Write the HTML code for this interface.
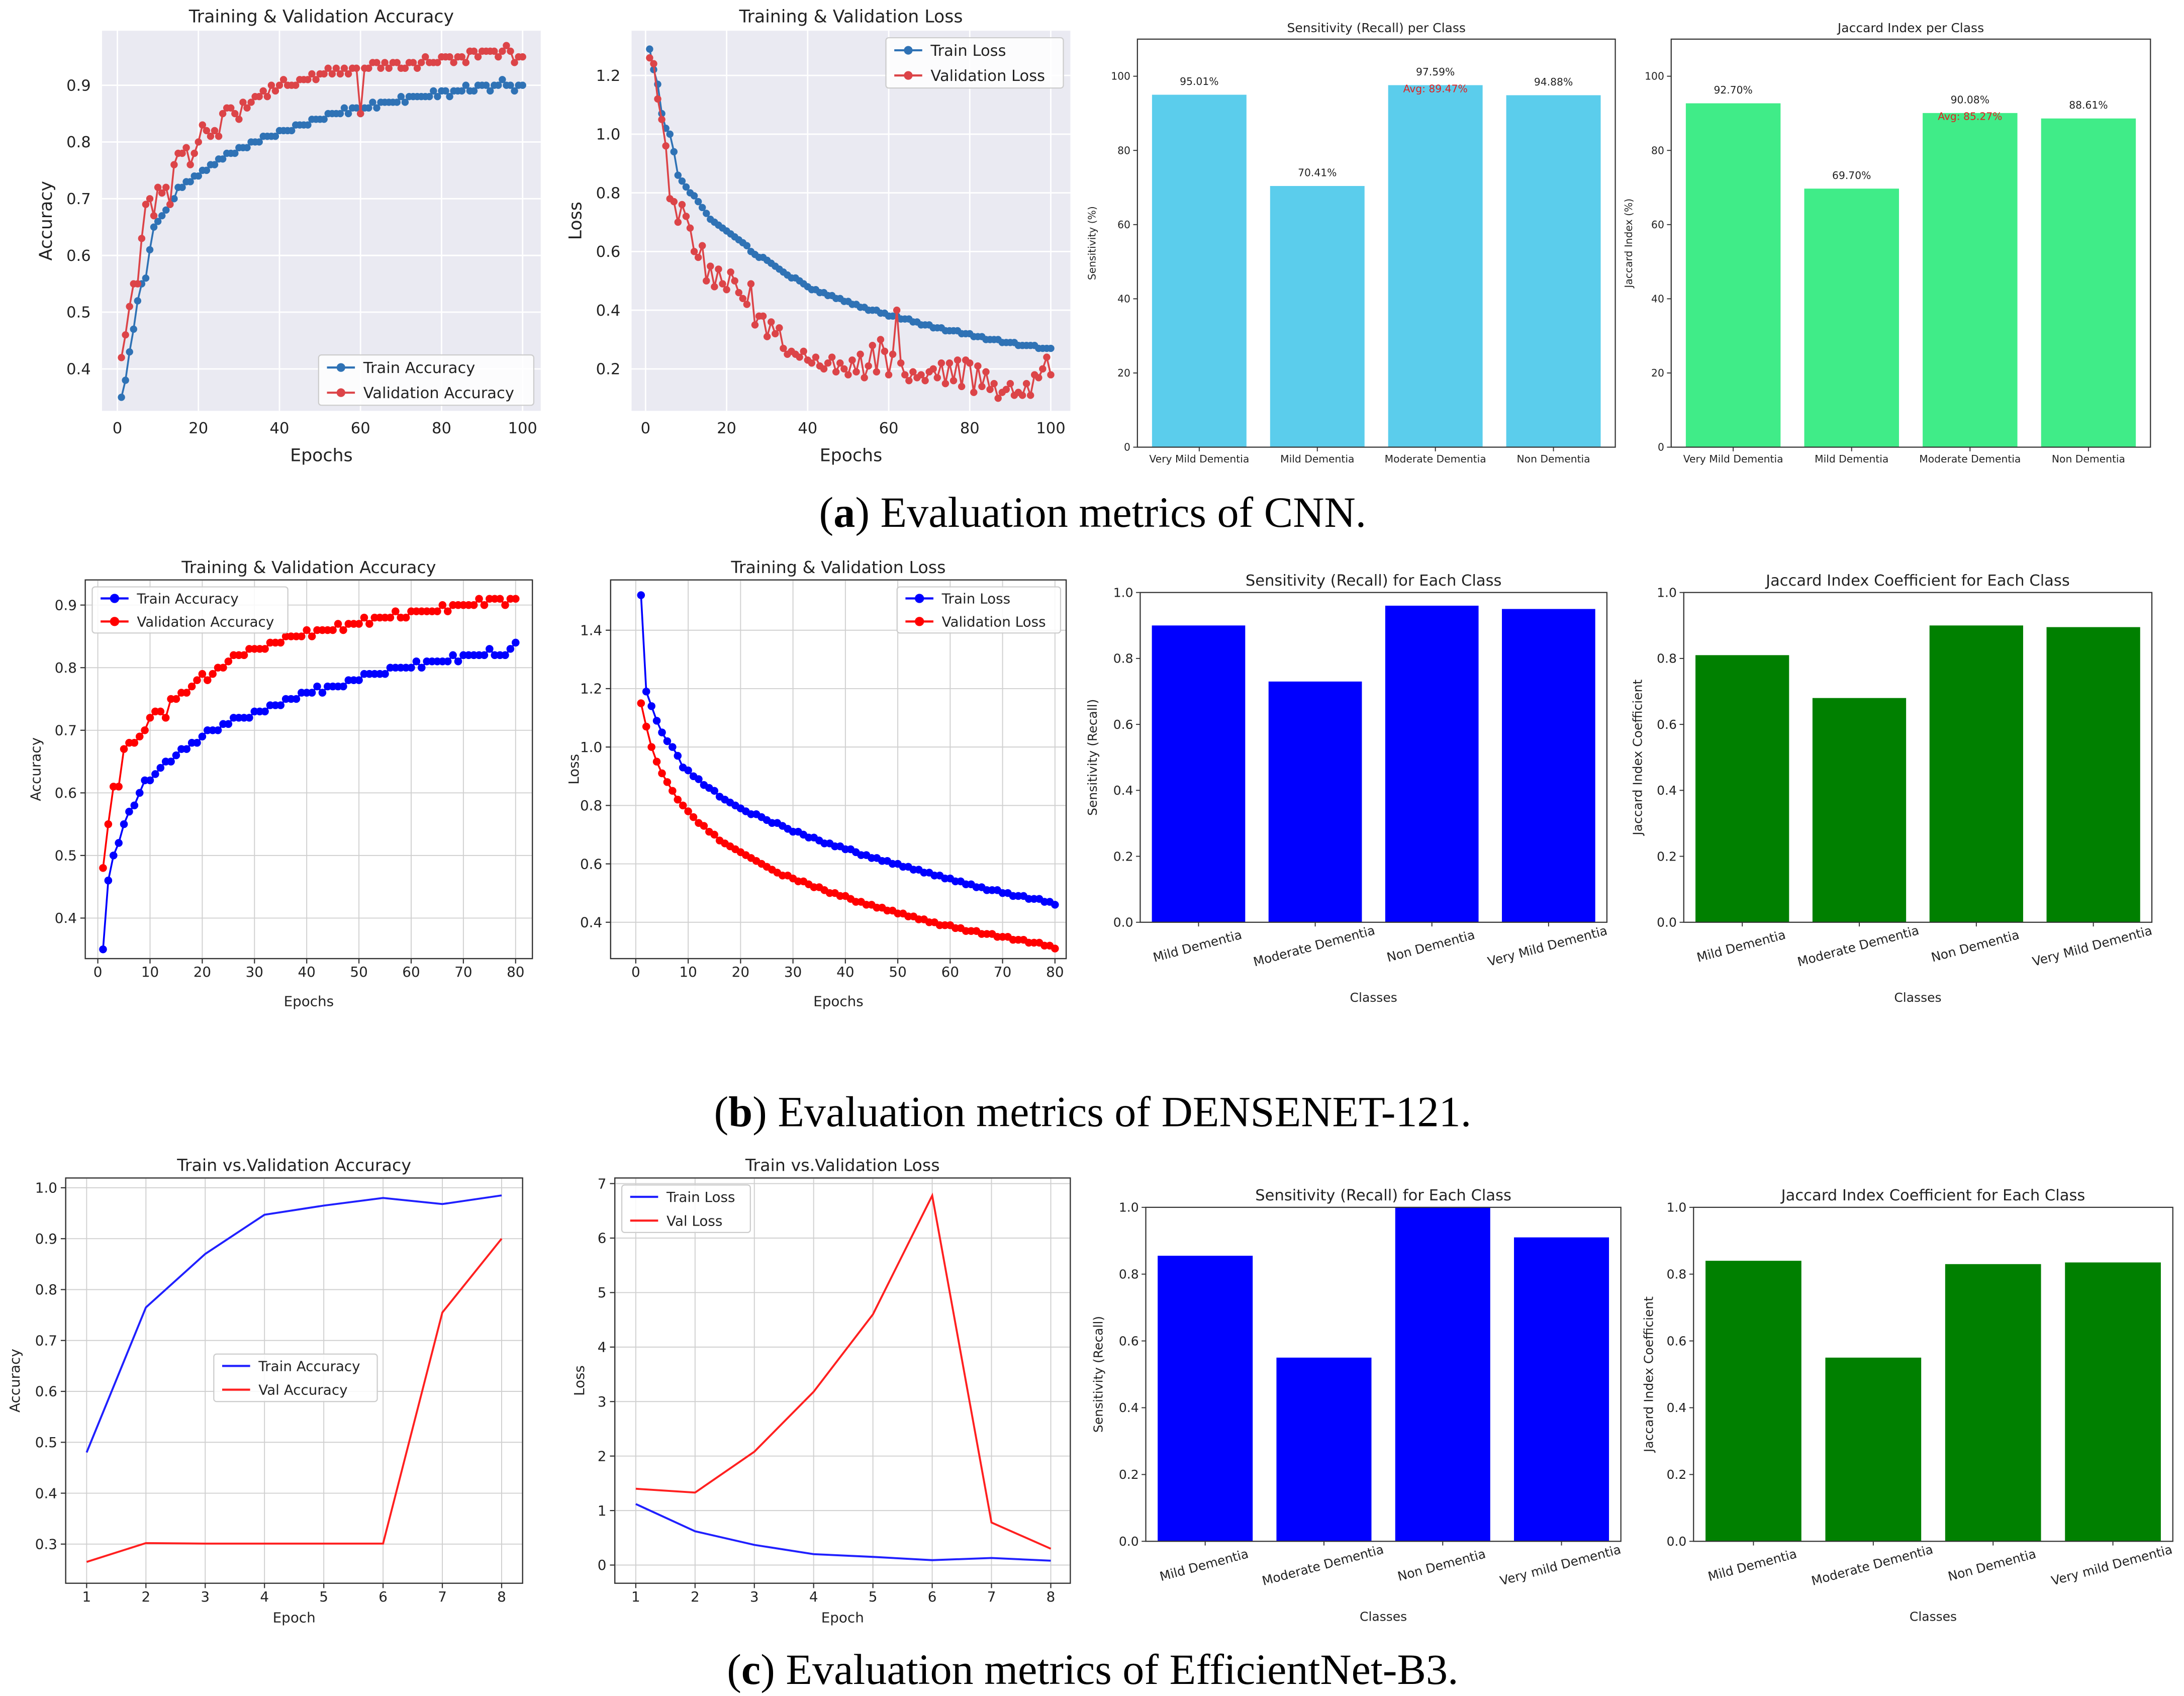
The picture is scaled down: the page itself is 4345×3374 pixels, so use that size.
<!DOCTYPE html>
<html><head><meta charset="utf-8">
<style>
html,body{margin:0;padding:0;background:#fff;}
svg{display:block;}
text{font-family:"DejaVu Sans","Liberation Sans",sans-serif;}
.cap{font-family:"Liberation Serif",serif;}
</style></head>
<body>
<svg id="fig" width="4345" height="3374" viewBox="0 0 1563 1213.7" xmlns="http://www.w3.org/2000/svg">
<rect width="1563" height="1213.7" fill="#fff"/>
<text class="cap" x="782" y="377" font-size="31" text-anchor="middle">(<tspan font-weight="bold">a</tspan>) Evaluation metrics of CNN.</text>
<text class="cap" x="782" y="806" font-size="31" text-anchor="middle">(<tspan font-weight="bold">b</tspan>) Evaluation metrics of DENSENET-121.</text>
<text class="cap" x="782" y="1205" font-size="31" text-anchor="middle">(<tspan font-weight="bold">c</tspan>) Evaluation metrics of EfficientNet-B3.</text>
</svg>
<script>
// ---------- data ----------
const cnnTrainAcc=[0.35,0.38,0.43,0.47,0.52,0.55,0.56,0.61,0.65,0.66,0.67,0.68,0.69,0.70,0.72,0.72,0.73,0.73,0.74,0.74,0.75,0.75,0.76,0.76,0.77,0.77,0.78,0.78,0.78,0.79,0.79,0.79,0.80,0.80,0.80,0.81,0.81,0.81,0.81,0.82,0.82,0.82,0.82,0.83,0.83,0.83,0.83,0.84,0.84,0.84,0.84,0.85,0.85,0.85,0.85,0.86,0.85,0.86,0.86,0.85,0.86,0.86,0.87,0.86,0.87,0.87,0.87,0.87,0.87,0.88,0.87,0.88,0.88,0.88,0.88,0.88,0.88,0.89,0.88,0.89,0.89,0.88,0.89,0.89,0.89,0.90,0.89,0.89,0.90,0.90,0.90,0.89,0.90,0.90,0.91,0.90,0.90,0.89,0.90,0.90];
const cnnValAcc=[0.42,0.46,0.51,0.55,0.55,0.63,0.69,0.70,0.67,0.72,0.71,0.72,0.69,0.76,0.78,0.78,0.79,0.76,0.78,0.80,0.83,0.82,0.81,0.82,0.81,0.85,0.86,0.86,0.85,0.84,0.87,0.86,0.87,0.88,0.88,0.89,0.88,0.90,0.89,0.90,0.91,0.90,0.90,0.90,0.91,0.91,0.91,0.92,0.91,0.92,0.92,0.93,0.92,0.93,0.92,0.93,0.92,0.93,0.93,0.85,0.93,0.93,0.94,0.94,0.93,0.94,0.93,0.94,0.94,0.93,0.93,0.94,0.94,0.93,0.94,0.95,0.94,0.94,0.94,0.95,0.95,0.95,0.94,0.95,0.95,0.94,0.96,0.96,0.95,0.96,0.96,0.96,0.96,0.95,0.96,0.97,0.96,0.94,0.95,0.95];
const cnnTrainLoss=[1.29,1.22,1.17,1.07,1.02,1.00,0.94,0.86,0.84,0.82,0.80,0.79,0.77,0.75,0.73,0.71,0.70,0.69,0.68,0.67,0.66,0.65,0.64,0.63,0.62,0.60,0.59,0.58,0.58,0.57,0.56,0.55,0.54,0.53,0.52,0.51,0.51,0.50,0.49,0.48,0.47,0.47,0.46,0.46,0.45,0.45,0.44,0.44,0.43,0.43,0.42,0.42,0.41,0.41,0.40,0.40,0.40,0.39,0.39,0.38,0.38,0.38,0.37,0.37,0.37,0.36,0.36,0.35,0.35,0.35,0.34,0.34,0.34,0.33,0.33,0.33,0.33,0.32,0.32,0.32,0.31,0.31,0.31,0.30,0.30,0.30,0.30,0.29,0.29,0.29,0.29,0.28,0.28,0.28,0.28,0.28,0.27,0.27,0.27,0.27];
const cnnValLoss=[1.26,1.24,1.12,1.05,0.96,0.78,0.77,0.70,0.76,0.72,0.68,0.60,0.58,0.62,0.50,0.55,0.48,0.54,0.49,0.47,0.53,0.50,0.46,0.44,0.42,0.49,0.35,0.38,0.38,0.31,0.36,0.32,0.34,0.27,0.25,0.26,0.25,0.24,0.26,0.23,0.22,0.24,0.21,0.20,0.22,0.24,0.19,0.22,0.20,0.18,0.23,0.19,0.25,0.17,0.21,0.28,0.19,0.30,0.26,0.18,0.25,0.40,0.22,0.18,0.16,0.19,0.17,0.18,0.16,0.19,0.20,0.17,0.22,0.15,0.22,0.16,0.23,0.14,0.23,0.22,0.12,0.21,0.14,0.19,0.13,0.15,0.10,0.12,0.13,0.15,0.11,0.12,0.11,0.15,0.11,0.18,0.17,0.20,0.24,0.18];
const cnnClasses=["Very Mild Dementia","Mild Dementia","Moderate Dementia","Non Dementia"];
const cnnSensitivity=[95.01,70.41,97.59,94.88];
const cnnJaccard=[92.70,69.70,90.08,88.61];
const cnnSensAvg="Avg: 89.47%";
const cnnJacAvg="Avg: 85.27%";

const denseTrainAcc=[0.35,0.46,0.50,0.52,0.55,0.57,0.58,0.60,0.62,0.62,0.63,0.64,0.65,0.65,0.66,0.67,0.67,0.68,0.68,0.69,0.70,0.70,0.70,0.71,0.71,0.72,0.72,0.72,0.72,0.73,0.73,0.73,0.74,0.74,0.74,0.75,0.75,0.75,0.76,0.76,0.76,0.77,0.76,0.77,0.77,0.77,0.77,0.78,0.78,0.78,0.79,0.79,0.79,0.79,0.79,0.80,0.80,0.80,0.80,0.80,0.81,0.80,0.81,0.81,0.81,0.81,0.81,0.82,0.81,0.82,0.82,0.82,0.82,0.82,0.83,0.82,0.82,0.82,0.83,0.84];
const denseValAcc=[0.48,0.55,0.61,0.61,0.67,0.68,0.68,0.69,0.70,0.72,0.73,0.73,0.72,0.75,0.75,0.76,0.76,0.77,0.78,0.79,0.78,0.79,0.80,0.80,0.81,0.82,0.82,0.82,0.83,0.83,0.83,0.83,0.84,0.84,0.84,0.85,0.85,0.85,0.85,0.86,0.85,0.86,0.86,0.86,0.86,0.87,0.86,0.87,0.87,0.87,0.88,0.87,0.88,0.88,0.88,0.88,0.89,0.88,0.88,0.89,0.89,0.89,0.89,0.89,0.89,0.90,0.89,0.90,0.90,0.90,0.90,0.90,0.91,0.90,0.91,0.91,0.91,0.90,0.91,0.91];
const denseTrainLoss=[1.52,1.19,1.14,1.09,1.05,1.02,1.00,0.97,0.93,0.92,0.90,0.89,0.87,0.86,0.85,0.83,0.82,0.81,0.80,0.79,0.78,0.77,0.77,0.76,0.75,0.74,0.74,0.73,0.72,0.71,0.71,0.70,0.69,0.69,0.68,0.67,0.67,0.66,0.66,0.65,0.65,0.64,0.63,0.63,0.62,0.62,0.61,0.61,0.60,0.60,0.59,0.59,0.58,0.58,0.57,0.57,0.56,0.56,0.55,0.55,0.54,0.54,0.53,0.53,0.52,0.52,0.51,0.51,0.51,0.50,0.50,0.49,0.49,0.49,0.48,0.48,0.48,0.47,0.47,0.46];
const denseValLoss=[1.15,1.07,1.00,0.95,0.91,0.88,0.85,0.82,0.80,0.78,0.76,0.74,0.73,0.71,0.70,0.68,0.67,0.66,0.65,0.64,0.63,0.62,0.61,0.60,0.59,0.58,0.57,0.56,0.56,0.55,0.54,0.54,0.53,0.52,0.52,0.51,0.50,0.50,0.49,0.49,0.48,0.47,0.47,0.46,0.46,0.45,0.45,0.44,0.44,0.43,0.43,0.42,0.42,0.41,0.41,0.40,0.40,0.39,0.39,0.39,0.38,0.38,0.37,0.37,0.37,0.36,0.36,0.36,0.35,0.35,0.35,0.34,0.34,0.34,0.33,0.33,0.33,0.32,0.32,0.31];
const denseClasses=["Mild Dementia","Moderate Dementia","Non Dementia","Very Mild Dementia"];
const denseSensitivity=[0.90,0.73,0.96,0.95];
const denseJaccard=[0.81,0.68,0.90,0.895];

const effTrainAcc=[0.48,0.765,0.87,0.947,0.965,0.98,0.968,0.985];
const effValAcc=[0.265,0.302,0.301,0.301,0.301,0.301,0.755,0.90];
const effTrainLoss=[1.12,0.62,0.37,0.20,0.15,0.09,0.13,0.08];
const effValLoss=[1.40,1.33,2.08,3.18,4.60,6.78,0.78,0.30];
const effClasses=["Mild Dementia","Moderate Dementia","Non Dementia","Very mild Dementia"];
const effSensitivity=[0.855,0.55,1.0,0.91];
const effJaccard=[0.84,0.55,0.83,0.835];

const accTicksA=[0.4,0.5,0.6,0.7,0.8,0.9];
const lossTicksA=[0.2,0.4,0.6,0.8,1.0,1.2];
const epochTicksA=[0,20,40,60,80,100];
const epochTicksB=[0,10,20,30,40,50,60,70,80];
const accTicksB=[0.4,0.5,0.6,0.7,0.8,0.9];
const lossTicksB=[0.4,0.6,0.8,1.0,1.2,1.4];
const epochTicksC=[1,2,3,4,5,6,7,8];
const accTicksC=[0.3,0.4,0.5,0.6,0.7,0.8,0.9,1.0];
const lossTicksC=[0,1,2,3,4,5,6,7];
const pctTicks=[0,20,40,60,80,100];
const fracTicks=[0,0.2,0.4,0.6,0.8,1.0];

// ---------- helpers ----------
const NS="http://www.w3.org/2000/svg";
const svg=document.getElementById('fig');
function mk(tag,attrs,parent){const e=document.createElementNS(NS,tag);for(const k in attrs)e.setAttribute(k,attrs[k]);(parent||svg).appendChild(e);return e;}
function txt(s,attrs,parent){const e=mk('text',attrs,parent);e.textContent=s;return e;}
function lin(v0,p0,v1,p1){return v=>p0+(v-v0)*(p1-p0)/(v1-v0);}

function linePanel(c){
  const g=mk('g',{});
  
  
  const [x1,y1,x2,y2]=c.frame;
  const X=lin(...c.xcal),Y=lin(...c.ycal);
  const bg=mk('rect',{x:x1,y:y1,width:x2-x1,height:y2-y1,fill:c.seaborn?'#eaeaf2':'#fff',stroke:c.seaborn?'none':'#333','stroke-width':0.8},g);
  
  
  const gridCol=c.seaborn?'#fff':'#d0d0d0';
  c.xticks.forEach(t=>{
    const px=X(t);
    if(c.grid)mk('line',{x1:px,x2:px,y1:y1,y2:y2,stroke:gridCol,'stroke-width':c.seaborn?1:0.7},g);
    if(!c.seaborn)mk('line',{x1:px,x2:px,y1:y2,y2:y2+3.5,stroke:'#333','stroke-width':0.8},g);
    const tl=txt(String(t),{x:px,y:y2+(c.seaborn?16:13),'font-size':c.fs,'text-anchor':'middle',fill:'#222'},g);
    
    
  });
  c.yticks.forEach(t=>{
    const py=Y(t);
    if(c.grid)mk('line',{x1:x1,x2:x2,y1:py,y2:py,stroke:gridCol,'stroke-width':c.seaborn?1:0.7},g);
    if(!c.seaborn)mk('line',{x1:x1-3.5,x2:x1,y1:py,y2:py,stroke:'#333','stroke-width':0.8},g);
    const tl=txt(c.yfmt(t),{x:x1-(c.seaborn?8:6),y:py+c.fs*0.35,'font-size':c.fs,'text-anchor':'end',fill:'#222'},g);
    
    
  });
  if(!c.seaborn)mk('rect',{x:x1,y:y1,width:x2-x1,height:y2-y1,fill:'none',stroke:'#333','stroke-width':0.8},g);
  c.series.forEach(s=>{
    const pts=s.data.map((v,i)=>X(i+1)+','+Y(v)).join(' ');
    const pl=mk('polyline',{points:pts,fill:'none',stroke:s.color,'stroke-width':s.w||1.3},g);
    
    
    if(s.r){s.data.forEach((v,i)=>{
      const ci=mk('circle',{cx:X(i+1),cy:Y(v),r:s.r,fill:s.color},g);
      
      
    });}
  });
  const t=txt(c.title,{x:(x1+x2)/2,y:y1-(c.seaborn?6:5),'font-size':c.tfs,'text-anchor':'middle',fill:'#222'},g);
  
  
  const xl=txt(c.xlabel,{x:(x1+x2)/2,y:c.xly,'font-size':c.lfs,'text-anchor':'middle',fill:'#222'},g);
  
  
  const yl=txt(c.ylabel,{x:0,y:0,'font-size':c.lfs,'text-anchor':'middle',fill:'#222',transform:`translate(${c.ylx},${(y1+y2)/2}) rotate(-90)`},g);
  
  
  const L=c.legend;
  const lg=mk('g',{},g);
  
  
  mk('rect',{x:L.x,y:L.y,width:L.w,height:L.h,fill:'#fff','fill-opacity':0.85,stroke:'#ccc','stroke-width':0.8,rx:2},lg);
  c.series.forEach((s,i)=>{
    const yy=L.y+L.h*(i+0.5)/c.series.length;
    mk('line',{x1:L.x+6,x2:L.x+26,y1:yy,y2:yy,stroke:s.color,'stroke-width':1.5},lg);
    if(s.r)mk('circle',{cx:L.x+16,cy:yy,r:s.r+0.5,fill:s.color},lg);
    const le=txt(s.label,{x:L.x+32,y:yy+L.fs*0.36,'font-size':L.fs,fill:'#222'},lg);
    
    
  });
}

function barPanel(c){
  const g=mk('g',{});
  
  
  const [x1,y1,x2,y2]=c.frame;
  const Y=lin(0,y2,c.ymax,y1);
  const n=c.values.length;
  const slot=(x2-x1-2*c.pad)/n;
  const bw=slot*0.8;
  c.yticks.forEach(t=>{
    const py=Y(t);
    mk('line',{x1:x1-3,x2:x1,y1:py,y2:py,stroke:'#333','stroke-width':0.7},g);
    const tl=txt(c.yfmt(t),{x:x1-5,y:py+c.fs*0.35,'font-size':c.fs,'text-anchor':'end',fill:'#222'},g);
    
    
  });
  c.values.forEach((v,i)=>{
    const cx=x1+c.pad+slot*(i+0.5);
    const b=mk('rect',{x:cx-bw/2,y:Y(v),width:bw,height:y2-Y(v),fill:c.color},g);
    
    
    mk('line',{x1:cx,x2:cx,y1:y2,y2:y2+3,stroke:'#333','stroke-width':0.7},g);
    let tl;
    if(c.rot){
      tl=txt(c.classes[i],{x:0,y:0,'font-size':c.fs,'text-anchor':'middle',fill:'#222',transform:`translate(${cx},${y2+20}) rotate(-15)`},g);
    }else{
      tl=txt(c.classes[i],{x:cx,y:y2+11,'font-size':c.fs,'text-anchor':'middle',fill:'#222'},g);
    }
    
    
    if(c.showVals){
      const vl=txt(v.toFixed(2)+'%',{x:cx,y:Y(v)-7,'font-size':c.fs,'text-anchor':'middle',fill:'#222'},g);
      
      
    }
  });
  if(c.avg){
    const cx=x1+c.pad+slot*2.5;
    const a=txt(c.avg,{x:cx,y:Y(c.values[2])+5,'font-size':c.fs,'text-anchor':'middle',fill:'#e02020'},g);
    
    
  }
  mk('rect',{x:x1,y:y1,width:x2-x1,height:y2-y1,fill:'none',stroke:'#333','stroke-width':0.8},g);
  const t=txt(c.title,{x:(x1+x2)/2,y:y1-5,'font-size':c.tfs,'text-anchor':'middle',fill:'#222'},g);
  
  
  const yl=txt(c.ylabel,{x:0,y:0,'font-size':c.lfs,'text-anchor':'middle',fill:'#222',transform:`translate(${c.ylx},${(y1+y2)/2}) rotate(-90)`},g);
  
  
  if(c.xlabel){
    const xl=txt(c.xlabel,{x:(x1+x2)/2,y:c.xly,'font-size':c.lfs,'text-anchor':'middle',fill:'#222'},g);
    
    
  }
}

const f1=v=>v.toFixed(1), f0=v=>String(v);
const blueA='#2f72b5', redA='#dc4448';

linePanel({name:'cnn-accuracy-chart',frame:[73,22,387,294],seaborn:true,grid:true,xcal:[0,84,100,374],ycal:[0.4,264,0.9,61],
  xticks:epochTicksA,yticks:accTicksA,yfmt:f1,fs:11,tfs:12.5,lfs:12.5,title:'Training & Validation Accuracy',xlabel:'Epochs',xly:330,ylabel:'Accuracy',ylx:37,
  series:[{name:'train-accuracy',label:'Train Accuracy',data:cnnTrainAcc,color:blueA,r:2.6},{name:'validation-accuracy',label:'Validation Accuracy',data:cnnValAcc,color:redA,r:2.6}],
  legend:{x:228,y:254,w:154,h:36,fs:11}});
linePanel({name:'cnn-loss-chart',frame:[452,22,766,294],seaborn:true,grid:true,xcal:[0,462,100,752],ycal:[0.2,264,1.2,54],
  xticks:epochTicksA,yticks:lossTicksA,yfmt:f1,fs:11,tfs:12.5,lfs:12.5,title:'Training & Validation Loss',xlabel:'Epochs',xly:330,ylabel:'Loss',ylx:416,
  series:[{name:'train-loss',label:'Train Loss',data:cnnTrainLoss,color:blueA,r:2.6},{name:'validation-loss',label:'Validation Loss',data:cnnValLoss,color:redA,r:2.6}],
  legend:{x:634,y:27,w:127,h:36,fs:11}});
barPanel({name:'cnn-sensitivity-chart',frame:[814,28,1156,320],ymax:110,pad:2,classes:cnnClasses,values:cnnSensitivity,color:'#5bcdec',yticks:pctTicks,yfmt:f0,
  fs:7.3,tfs:9,lfs:7.3,title:'Sensitivity (Recall) per Class',ylabel:'Sensitivity (%)',ylx:784,showVals:true,avg:cnnSensAvg});
barPanel({name:'cnn-jaccard-chart',frame:[1196,28,1539,320],ymax:110,pad:2,classes:cnnClasses,values:cnnJaccard,color:'#40ec88',yticks:pctTicks,yfmt:f0,
  fs:7.3,tfs:9,lfs:7.3,title:'Jaccard Index per Class',ylabel:'Jaccard Index (%)',ylx:1168,showVals:true,avg:cnnJacAvg});

linePanel({name:'densenet-accuracy-chart',frame:[61,415,381,686],grid:true,xcal:[0,70,80,369],ycal:[0.4,657,0.9,433],
  xticks:epochTicksB,yticks:accTicksB,yfmt:f1,fs:10,tfs:12,lfs:10,title:'Training & Validation Accuracy',xlabel:'Epochs',xly:720,ylabel:'Accuracy',ylx:29,
  series:[{name:'train-accuracy',label:'Train Accuracy',data:denseTrainAcc,color:'#0000ff',r:2.8},{name:'validation-accuracy',label:'Validation Accuracy',data:denseValAcc,color:'#ff0000',r:2.8}],
  legend:{x:66,y:420,w:140,h:33,fs:10}});
linePanel({name:'densenet-loss-chart',frame:[437,415,763,686],grid:true,xcal:[0,455,80,755],ycal:[0.4,660,1.4,451],
  xticks:epochTicksB,yticks:lossTicksB,yfmt:f1,fs:10,tfs:12,lfs:10,title:'Training & Validation Loss',xlabel:'Epochs',xly:720,ylabel:'Loss',ylx:414,
  series:[{name:'train-loss',label:'Train Loss',data:denseTrainLoss,color:'#0000ff',r:2.8},{name:'validation-loss',label:'Validation Loss',data:denseValLoss,color:'#ff0000',r:2.8}],
  legend:{x:642,y:420,w:117,h:33,fs:10}});
barPanel({name:'densenet-sensitivity-chart',frame:[816,424,1150,660],ymax:1.0,pad:0,classes:denseClasses,values:denseSensitivity,color:'#0000ff',yticks:fracTicks,yfmt:f1,
  fs:9,tfs:11,lfs:9,title:'Sensitivity (Recall) for Each Class',ylabel:'Sensitivity (Recall)',ylx:785,rot:true,xlabel:'Classes',xly:717});
barPanel({name:'densenet-jaccard-chart',frame:[1205,424,1540,660],ymax:1.0,pad:0,classes:denseClasses,values:denseJaccard,color:'#008000',yticks:fracTicks,yfmt:f1,
  fs:9,tfs:11,lfs:9,title:'Jaccard Index Coefficient for Each Class',ylabel:'Jaccard Index Coefficient',ylx:1175,rot:true,xlabel:'Classes',xly:717});

linePanel({name:'efficientnet-accuracy-chart',frame:[47,843,374,1133],grid:true,xcal:[1,62,8,359],ycal:[0.3,1105,1.0,850],
  xticks:epochTicksC,yticks:accTicksC,yfmt:f1,fs:10,tfs:12,lfs:10,title:'Train vs.Validation Accuracy',xlabel:'Epoch',xly:1161,ylabel:'Accuracy',ylx:14,
  series:[{name:'train-accuracy',label:'Train Accuracy',data:effTrainAcc,color:'#2020ff',w:1.4},{name:'validation-accuracy',label:'Val Accuracy',data:effValAcc,color:'#ff2020',w:1.4}],
  legend:{x:153,y:969,w:117,h:34,fs:10}});
linePanel({name:'efficientnet-loss-chart',frame:[440,843,766,1133],grid:true,xcal:[1,455,8,752],ycal:[0,1120,7,847],
  xticks:epochTicksC,yticks:lossTicksC,yfmt:f0,fs:10,tfs:12,lfs:10,title:'Train vs.Validation Loss',xlabel:'Epoch',xly:1161,ylabel:'Loss',ylx:418,
  series:[{name:'train-loss',label:'Train Loss',data:effTrainLoss,color:'#2020ff',w:1.4},{name:'validation-loss',label:'Val Loss',data:effValLoss,color:'#ff2020',w:1.4}],
  legend:{x:445,y:848,w:92,h:34,fs:10}});
barPanel({name:'efficientnet-sensitivity-chart',frame:[820,864,1160,1103],ymax:1.0,pad:0,classes:effClasses,values:effSensitivity,color:'#0000ff',yticks:fracTicks,yfmt:f1,
  fs:9,tfs:11,lfs:9,title:'Sensitivity (Recall) for Each Class',ylabel:'Sensitivity (Recall)',ylx:789,rot:true,xlabel:'Classes',xly:1160});
barPanel({name:'efficientnet-jaccard-chart',frame:[1212,864,1555,1103],ymax:1.0,pad:0,classes:effClasses,values:effJaccard,color:'#008000',yticks:fracTicks,yfmt:f1,
  fs:9,tfs:11,lfs:9,title:'Jaccard Index Coefficient for Each Class',ylabel:'Jaccard Index Coefficient',ylx:1183,rot:true,xlabel:'Classes',xly:1160});
</script>
</body></html>
